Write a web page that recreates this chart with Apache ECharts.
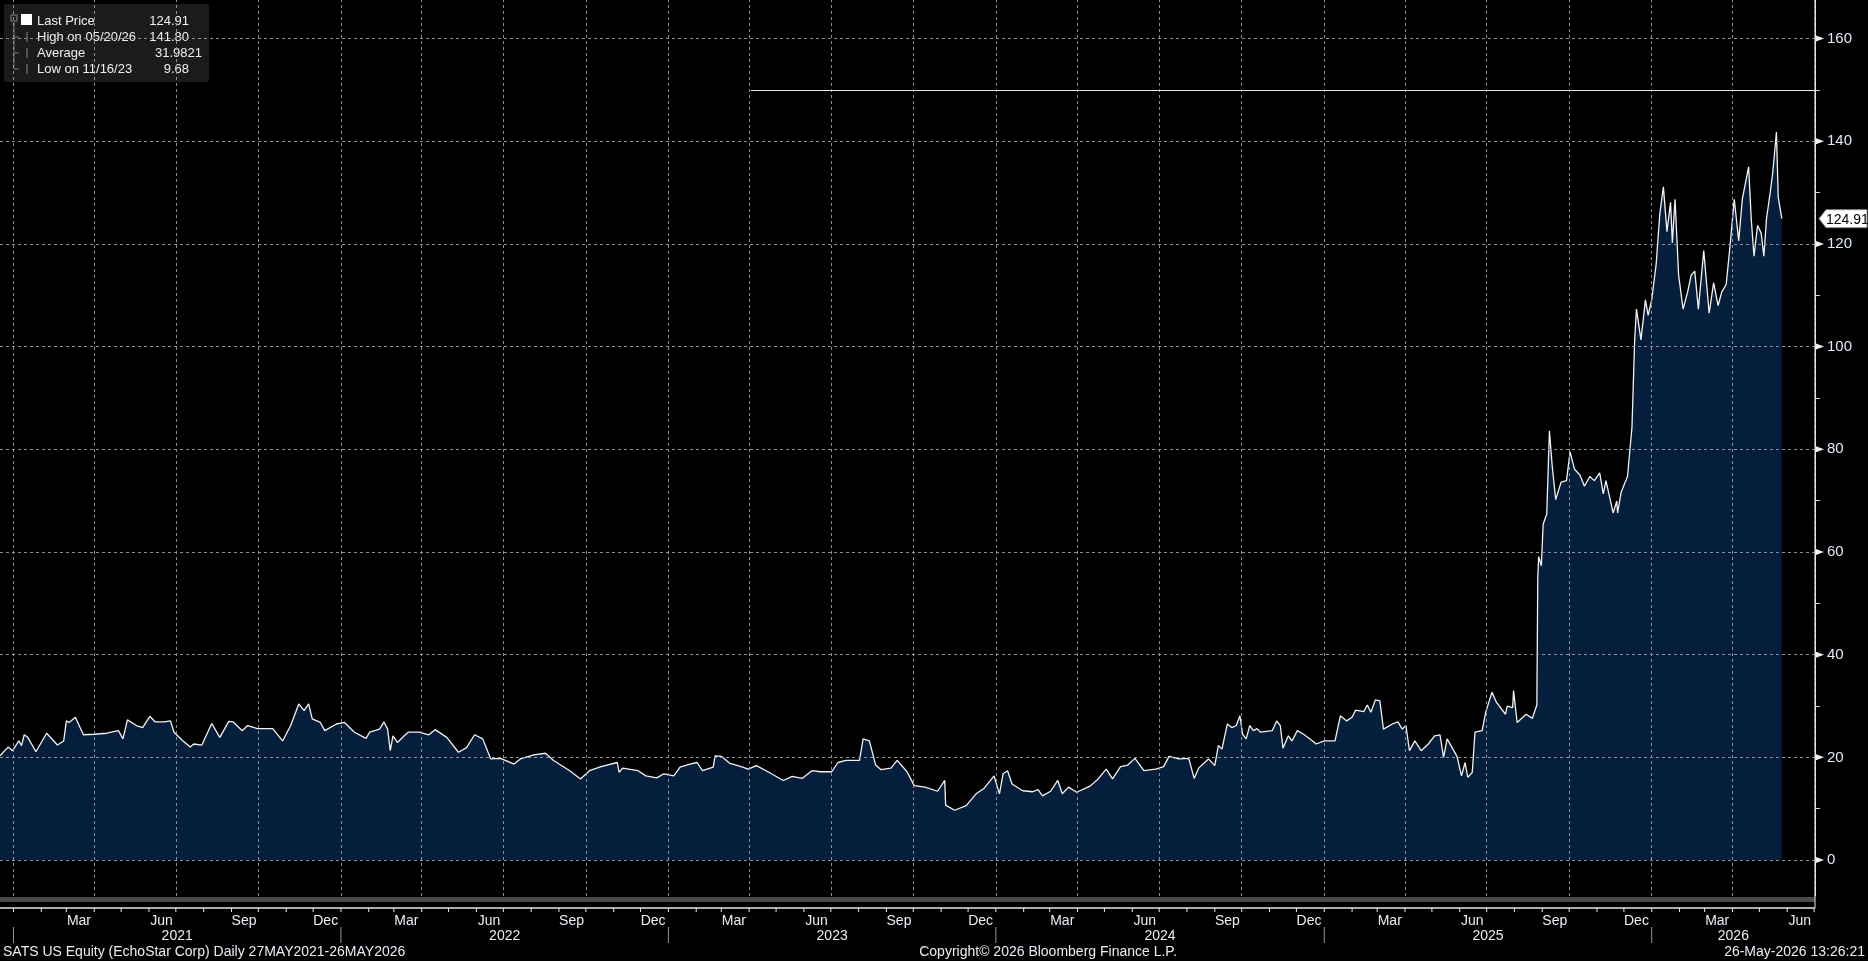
<!DOCTYPE html>
<html>
<head>
<meta charset="utf-8">
<script src="https://cdn.jsdelivr.net/npm/echarts@6/dist/echarts.min.js"></script>
<style>
  html, body { margin: 0; padding: 0; background: #000; }
  #chart { width: 1868px; height: 961px; }
</style>
</head>
<body>
<div id="chart"></div>
<script>
// SATS US Equity, daily close
var priceDates = [
  '2020-12-17','2020-12-26','2020-12-31','2021-01-07','2021-01-10','2021-01-13','2021-01-17','2021-01-26',
  '2021-02-07','2021-02-19','2021-02-26','2021-03-01','2021-03-04','2021-03-11','2021-03-20','2021-04-01',
  '2021-04-15','2021-04-28','2021-05-03','2021-05-08','2021-05-18','2021-05-25','2021-06-02','2021-06-08',
  '2021-06-18','2021-06-25','2021-06-29','2021-07-09','2021-07-17','2021-07-21','2021-07-30','2021-08-10',
  '2021-08-19','2021-08-29','2021-09-03','2021-09-13','2021-09-19','2021-09-30','2021-10-17','2021-10-28',
  '2021-11-06','2021-11-15','2021-11-21','2021-11-26','2021-11-30','2021-12-09','2021-12-14','2021-12-27',
  '2022-01-05','2022-01-16','2022-01-29','2022-02-02','2022-02-13','2022-02-18','2022-02-22','2022-02-25',
  '2022-02-28','2022-03-05','2022-03-12','2022-03-17','2022-03-29','2022-04-09','2022-04-16','2022-04-29',
  '2022-05-12','2022-05-21','2022-05-30','2022-06-08','2022-06-17','2022-06-28','2022-07-13','2022-07-20',
  '2022-08-04','2022-08-17','2022-08-26','2022-09-13','2022-09-25','2022-10-05','2022-10-18','2022-11-05',
  '2022-11-07','2022-11-11','2022-11-28','2022-12-07','2022-12-19','2022-12-27','2023-01-07','2023-01-14',
  '2023-01-25','2023-02-02','2023-02-08','2023-02-20','2023-02-22','2023-03-01','2023-03-10','2023-03-23',
  '2023-03-31','2023-04-09','2023-04-23','2023-05-09','2023-05-19','2023-05-30','2023-06-10','2023-06-19',
  '2023-07-02','2023-07-09','2023-07-18','2023-08-02','2023-08-06','2023-08-13','2023-08-20','2023-08-26',
  '2023-09-06','2023-09-13','2023-09-24','2023-10-02','2023-10-14','2023-10-28','2023-11-05','2023-11-06',
  '2023-11-16','2023-11-29','2023-12-10','2023-12-19','2023-12-30','2024-01-05','2024-01-09','2024-01-14',
  '2024-01-19','2024-01-31','2024-02-11','2024-02-17','2024-02-22','2024-03-02','2024-03-10','2024-03-15',
  '2024-03-22','2024-03-31','2024-04-15','2024-04-24','2024-05-03','2024-05-10','2024-05-19','2024-05-27',
  '2024-06-04','2024-06-14','2024-06-27','2024-07-06','2024-07-12','2024-07-23','2024-08-03','2024-08-09',
  '2024-08-14','2024-08-25','2024-09-01','2024-09-05','2024-09-09','2024-09-15','2024-09-20','2024-09-25',
  '2024-09-29','2024-10-02','2024-10-06','2024-10-10','2024-10-14','2024-10-18','2024-10-22','2024-11-04',
  '2024-11-09','2024-11-13','2024-11-16','2024-11-22','2024-11-26','2024-12-02','2024-12-09','2024-12-19',
  '2024-12-23','2025-01-01','2025-01-13','2025-01-19','2025-01-26','2025-02-01','2025-02-05','2025-02-14',
  '2025-02-18','2025-02-22','2025-02-27','2025-03-04','2025-03-08','2025-03-18','2025-03-24','2025-03-29',
  '2025-04-02','2025-04-06','2025-04-12','2025-04-19','2025-04-27','2025-05-04','2025-05-10','2025-05-14',
  '2025-05-18','2025-05-29','2025-06-03','2025-06-07','2025-06-10','2025-06-15','2025-06-18','2025-06-26',
  '2025-06-30','2025-07-07','2025-07-12','2025-07-22','2025-07-24','2025-07-30','2025-07-31','2025-08-04',
  '2025-08-14','2025-08-21','2025-08-25','2025-08-26','2025-08-27','2025-08-28','2025-08-31','2025-09-02',
  '2025-09-06','2025-09-09','2025-09-12','2025-09-16','2025-09-22','2025-09-28','2025-10-02','2025-10-07',
  '2025-10-13','2025-10-18','2025-10-24','2025-10-29','2025-11-04','2025-11-08','2025-11-11','2025-11-19',
  '2025-11-23','2025-11-24','2025-11-28','2025-12-05','2025-12-10','2025-12-13','2025-12-15','2025-12-20',
  '2025-12-25','2025-12-28','2026-01-01','2026-01-06','2026-01-10','2026-01-14','2026-01-18','2026-01-22',
  '2026-01-24','2026-01-27','2026-01-31','2026-02-05','2026-02-10','2026-02-14','2026-02-18','2026-02-22',
  '2026-02-28','2026-03-06','2026-03-11','2026-03-16','2026-03-20','2026-03-25','2026-03-29','2026-04-03',
  '2026-04-08','2026-04-12','2026-04-19','2026-04-22','2026-04-25','2026-04-29','2026-05-03','2026-05-06',
  '2026-05-09','2026-05-13','2026-05-16','2026-05-20','2026-05-22','2026-05-26'
];
var priceValues = [
  20.3,22.0,21.3,23.2,22.3,24.4,23.9,21.1,
  24.7,22.4,23.2,27.1,26.8,27.8,24.4,24.5,
  24.7,25.2,23.6,27.3,26.2,25.8,28.0,26.9,
  26.9,27.1,24.9,23.2,22.0,22.6,22.4,26.6,
  23.9,27.0,26.9,25.2,26.2,25.6,25.6,23.2,
  26.2,30.4,29.1,30.4,27.5,26.8,25.2,26.5,
  26.8,24.9,23.7,24.9,25.5,26.9,25.5,21.3,
  24.2,22.9,24.1,24.9,24.9,24.4,25.4,23.9,
  21.0,21.9,24.4,23.6,19.7,19.8,18.7,19.7,
  20.5,20.8,19.4,17.4,15.8,17.4,18.2,19.0,
  17.1,17.9,17.4,16.4,16.0,16.8,16.4,18.1,
  18.7,19.0,17.4,18.1,20.3,20.2,18.9,18.2,
  17.7,18.4,17.1,15.5,16.3,15.9,17.4,17.2,
  17.2,19.0,19.4,19.4,23.6,23.2,18.5,17.6,
  17.9,19.4,17.2,14.5,14.2,13.4,15.5,10.7,
  9.7,10.6,12.9,14.0,16.4,12.9,16.8,17.4,
  14.8,13.5,13.3,13.7,12.5,13.4,15.5,12.9,
  14.2,13.2,14.4,15.8,17.7,15.8,18.2,18.5,
  19.8,17.4,17.7,18.2,20.2,19.7,19.8,15.9,
  17.9,19.7,18.4,22.3,21.6,26.5,25.8,26.2,
  28.1,24.5,23.6,26.2,25.2,25.6,24.9,25.2,
  27.1,26.2,21.8,24.2,23.2,25.2,24.5,23.2,
  22.6,23.2,23.2,28.1,27.1,27.8,29.2,28.9,
  30.2,28.8,31.2,31.0,25.5,26.5,26.9,25.5,
  26.2,21.3,23.2,21.3,22.6,24.2,24.4,20.0,
  23.6,20.2,16.4,19.0,16.1,17.1,24.9,25.2,
  28.8,32.7,30.7,28.4,30.0,29.7,33.0,26.8,
  28.4,27.6,29.7,30.2,55.0,59.1,57.3,65.4,
  67.4,83.6,76.9,70.2,73.6,73.9,79.5,76.1,
  75.0,72.8,74.7,73.9,75.4,71.3,73.9,67.6,
  69.9,67.6,71.7,74.7,84.3,101.3,107.3,101.3,
  109.1,106.1,109.1,116.1,125.8,131.1,122.4,128.1,
  120.2,128.7,113.9,107.3,110.6,113.9,114.7,107.3,
  118.7,106.5,112.4,108.0,110.6,112.1,119.1,128.7,
  120.6,128.7,135.0,124.7,117.6,123.6,122.1,117.6,
  125.0,129.9,134.0,141.8,129.1,124.91
];
var yTickValues = [0, 20, 40, 60, 80, 100, 120, 140, 160];
var yMinorTicks = [10, 30, 50, 70, 90, 110, 130, 150];
var refLevel = 150;
var refStart = '2023-04-03';
var legendRows = [
  ['Last Price', '124.91'],
  ['High on 05/20/26', '141.80'],
  ['Average', '31.9821'],
  ['Low on 11/16/23', '9.68']
];
var monthNames = ['Jan','Feb','Mar','Apr','May','Jun','Jul','Aug','Sep','Oct','Nov','Dec'];
var xMin = '2020-12-17', xMax = '2026-07-02';

var FONT = 'Liberation Sans';
var chart = echarts.init(document.getElementById('chart'));

// quarter starts for vertical grid lines
var quarterLines = [];
for (var yr = 2021; yr <= 2026; yr++) {
  [1, 4, 7, 10].forEach(function (m) {
    var d = yr + '-' + (m < 10 ? '0' + m : m) + '-01';
    if (d <= xMax) quarterLines.push({ xAxis: d });
  });
}
var gridStyle = { color: '#8a8f99', type: [3, 3], width: 1 };

var option = {
  backgroundColor: '#000',
  animation: false,
  grid: { left: 0, right: 53, top: 0, bottom: 65 },
  xAxis: {
    type: 'time', min: xMin, max: xMax,
    axisLine: { show: false }, axisTick: { show: false }, axisLabel: { show: false },
    splitLine: { show: false }
  },
  yAxis: {
    type: 'value', position: 'right', min: -7, max: 167.5,
    axisLine: { show: true, lineStyle: { color: '#e6e6e6', width: 1 } },
    axisTick: { show: true, customValues: yMinorTicks, length: 5, lineStyle: { color: '#cfcfcf' } },
    axisLabel: { customValues: yTickValues, color: '#dfe8f4', fontFamily: FONT, fontSize: 15, margin: 12 },
    splitLine: { show: false }
  },
  series: [{
    type: 'line',
    data: priceDates.map(function (d, i) { return [d, priceValues[i]]; }),
    showSymbol: false,
    lineStyle: { color: '#f2f2f2', width: 1.3 },
    areaStyle: { color: '#041e3b', opacity: 1 },
    z: 3,
    markLine: {
      silent: true, symbol: 'none', label: { show: false },
      data: quarterLines.map(function (q) {
        return Object.assign({ lineStyle: gridStyle }, q);
      }).concat(yTickValues.map(function (v) {
        return { yAxis: v, lineStyle: gridStyle };
      })).concat([[
        { coord: [refStart, refLevel], lineStyle: { color: '#e8e8e8', type: 'solid', width: 1.2 } },
        { coord: [xMax, refLevel] }
      ]])
    }
  }]
};
chart.setOption(option);

// decorations: time axis labels, legend box, last price tag, footer
function px(d, v) { return chart.convertToPixel({ gridIndex: 0 }, [d, v]); }
var g = [];
var axisY = 908;
var TXT = '#e8eef6';
g.push({ type: 'rect', shape: { x: 0, y: 897, width: 1815, height: 5 }, style: { fill: '#4a4a4a' } });
g.push({ type: 'line', shape: { x1: 0, y1: axisY, x2: 1815, y2: axisY }, style: { stroke: '#e6e6e6', lineWidth: 1.5 } });
g.push({ type: 'line', shape: { x1: 1815, y1: 0, x2: 1815, y2: axisY }, style: { stroke: '#e6e6e6', lineWidth: 1 } });
// arrow markers on the price axis
yTickValues.forEach(function (v) {
  var p = px(xMax, v);
  g.push({ type: 'polygon', shape: { points: [[1816, p[1] - 3], [1824, p[1]], [1816, p[1] + 3]] }, style: { fill: '#f0f0f0' } });
});
for (var y = 2020; y <= 2026; y++) {
  for (var m = 1; m <= 12; m++) {
    var ds = y + '-' + (m < 10 ? '0' + m : m) + '-01';
    if (ds < xMin || ds > xMax) continue;
    var x = px(ds, 0)[0];
    g.push({ type: 'line', shape: { x1: x, y1: axisY, x2: x, y2: axisY + 4 }, style: { stroke: '#e6e6e6', lineWidth: 1 } });
    if (m % 3 === 0) {
      var xm = px(y + '-' + (m < 10 ? '0' + m : m) + '-15', 0)[0];
      g.push({ type: 'text', x: xm, y: 921, style: { text: monthNames[m - 1], fill: TXT, font: '14px ' + FONT, align: 'center', verticalAlign: 'middle' } });
    }
    if (m === 1) {
      g.push({ type: 'line', shape: { x1: x, y1: 927, x2: x, y2: 943 }, style: { stroke: '#9a9a9a', lineWidth: 1 } });
    }
  }
}
for (var yy = 2021; yy <= 2026; yy++) {
  var a = px(yy + '-01-01', 0)[0];
  var b = px((yy === 2026 ? xMax : (yy + 1) + '-01-01'), 0)[0];
  g.push({ type: 'text', x: (a + b) / 2, y: 936, style: { text: String(yy), fill: TXT, font: '14px ' + FONT, align: 'center', verticalAlign: 'middle' } });
}
// last price tag
var lp = px(priceDates[priceDates.length - 1], priceValues[priceValues.length - 1]);
g.push({ type: 'polygon', shape: { points: [[1819, lp[1]], [1826, lp[1] - 9], [1867, lp[1] - 9], [1867, lp[1] + 9], [1826, lp[1] + 9]] }, style: { fill: '#ffffff', stroke: '#888', lineWidth: 1 } });
g.push({ type: 'text', x: 1826, y: lp[1] + 1, style: { text: '124.91', fill: '#000', font: '14px ' + FONT, verticalAlign: 'middle' } });
// legend
g.push({ type: 'rect', shape: { x: 4, y: 4, width: 205, height: 78, r: 2 }, style: { fill: '#1b1b1b' } });
g.push({ type: 'rect', shape: { x: 11, y: 15, width: 6, height: 6 }, style: { fill: 'none', stroke: '#888', lineWidth: 1 } });
g.push({ type: 'line', shape: { x1: 14, y1: 22, x2: 14, y2: 69 }, style: { stroke: '#777', lineWidth: 1 } });
g.push({ type: 'rect', shape: { x: 21, y: 14, width: 11, height: 11 }, style: { fill: '#fff' } });
legendRows.forEach(function (r, i) {
  var ry = 21 + i * 16;
  if (i > 0) {
    g.push({ type: 'line', shape: { x1: 14, y1: ry, x2: 19, y2: ry }, style: { stroke: '#777', lineWidth: 1 } });
    g.push({ type: 'line', shape: { x1: 27, y1: ry - 5, x2: 27, y2: ry + 5 }, style: { stroke: '#888', lineWidth: 1 } });
  }
  g.push({ type: 'text', x: 37, y: ry, style: { text: r[0], fill: '#f0f0f0', font: '13px ' + FONT, verticalAlign: 'middle' } });
  g.push({ type: 'text', x: i === 2 ? 202 : 189, y: ry, style: { text: r[1], fill: '#f0f0f0', font: '13px ' + FONT, align: 'right', verticalAlign: 'middle' } });
});
// footer
g.push({ type: 'text', x: 3, y: 952, style: { text: 'SATS US Equity (EchoStar Corp) Daily 27MAY2021-26MAY2026', fill: TXT, font: '14px ' + FONT, verticalAlign: 'middle' } });
g.push({ type: 'text', x: 1048, y: 952, style: { text: 'Copyright\u00a9 2026 Bloomberg Finance L.P.', fill: TXT, font: '14px ' + FONT, align: 'center', verticalAlign: 'middle' } });
g.push({ type: 'text', x: 1865, y: 952, style: { text: '26-May-2026 13:26:21', fill: TXT, font: '14px ' + FONT, align: 'right', verticalAlign: 'middle' } });
chart.setOption({ graphic: g });
window.addEventListener('resize', chart.resize);
</script>
</body>
</html>
